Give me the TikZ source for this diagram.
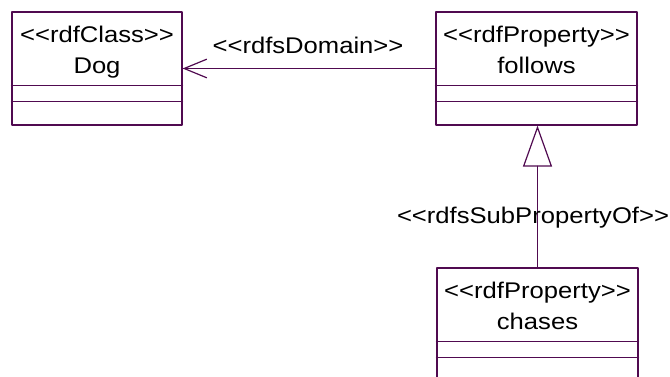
\documentclass[tikz,border=0pt]{standalone}
\usepackage{fontspec}
\setmainfont{Liberation Sans}[Ligatures=TeXOff, FakeStretch=1.13]
\usetikzlibrary{arrows.meta}
\definecolor{umlline}{RGB}{80,10,80}

\begin{document}
\begin{tikzpicture}[line cap=round, line join=round, x=0.75pt, y=-0.75pt,
    classbox/.style={draw=umlline, line width=0.9pt, minimum height=84.75pt, inner sep=0pt},
    umltext/.style={font=\fontsize{17}{20}\selectfont, anchor=base, inner sep=0pt}]
                \useasboundingbox (0,0) rectangle (670,377);
                \clip (0,0) rectangle (670,377);
                \node[classbox, minimum width=127.5pt] (dog) at (97,68.5) {};
                \node[classbox, minimum width=150.75pt] (follows) at (536.5,68.5) {};
                \node[classbox, minimum width=150.75pt] (chases) at (537.5,324.5) {};
                \foreach \cls/\stereo/\name in {dog/rdfClass/Dog, follows/rdfProperty/follows, chases/rdfProperty/chases} {
                    \node[umltext] (\cls-stereo) at ([yshift=-23.25pt]\cls.north) {<<\stereo>>};
                    \node[umltext] (\cls-name) at ([yshift=-46.5pt]\cls.north) {\name};
                    \draw[umlline, line width=0.9pt] ([yshift=-55.5pt]\cls.north west) -- ([yshift=-55.5pt]\cls.north east);
                    \draw[umlline, line width=0.9pt] ([yshift=-67.5pt]\cls.north west) -- ([yshift=-67.5pt]\cls.north east);
                }
                \draw[umlline, line width=0.9pt, -{Straight Barb[length=17pt, width=14pt]}] (follows) -- (dog);
                \node[umltext] (domain) at (308,54) {<<rdfsDomain>>};
                \draw[umlline, line width=0.9pt, -{Triangle[open, length=30.75pt, width=21.75pt]}] (chases.north) -- (chases.north |- follows.south);
                \node[umltext] (subprop) at (533,224) {<<rdfsSubPropertyOf>>};
            \end{tikzpicture}
\end{document}
